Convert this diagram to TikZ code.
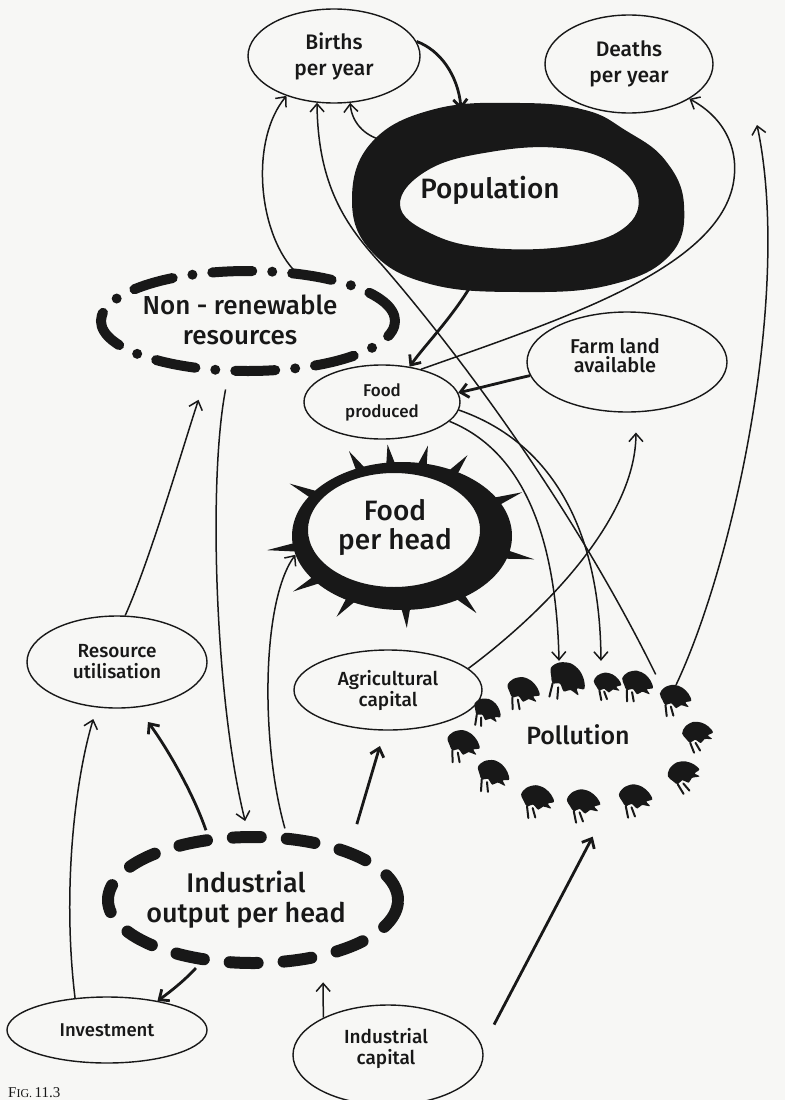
\documentclass[tikz,border=0pt]{standalone}
\usepackage{fontspec}
\setmainfont{Fira Sans}[UprightFont=* Medium]
\newfontfamily\figfont{Liberation Serif}
\usetikzlibrary{arrows.meta,shapes.geometric,calc}
\definecolor{ink}{RGB}{24,24,24}
\definecolor{paper}{RGB}{247,247,245}
\tikzset{
  oval/.style={ellipse, draw=ink, line width=1.4pt, inner sep=0pt, align=center, text=ink},
  hollow/.style={ellipse, inner sep=0pt, align=center, text=ink},
  txt/.style={align=center, text=ink, inner sep=0pt},
  conn/.style={draw=ink, line width=1.5pt, -{Straight Barb[length=8pt,width=14pt]}},
  heavy/.style={conn, line width=2.8pt},
  t17/.style={font=\fontsize{17}{21}\selectfont},
  t18/.style={font=\fontsize{18.5}{21}\selectfont},
  t19/.style={font=\fontsize{19}{21}\selectfont},
  t20/.style={font=\fontsize{20}{19}\selectfont},
  t21/.style={font=\fontsize{21}{26}\selectfont},
  t25/.style={font=\fontsize{25}{28}\selectfont},
  t26/.style={font=\fontsize{26}{30}\selectfont},
  t27/.style={font=\fontsize{27}{30}\selectfont},
  t28/.style={font=\fontsize{28}{29}\selectfont},
  smudge/.pic={
    \fill[ink] plot[smooth cycle, tension=0.55] coordinates
      {(-14,-2) (-10,-8) (-2,-11) (6,-9) (12,-4) (15,2) (10,4) (13,8) (6,7) (2,10) (-3,6) (-8,8) (-11,4)};
    \draw[ink, line width=2pt, line cap=round] (-8,8) -- (-6,18) (-3,9) -- (0,17);
  },
}
\begin{document}
\begin{tikzpicture}[x=1pt,y=-1pt]
\fill[paper] (0,0) rectangle (785,1100);
\useasboundingbox (0,0) rectangle (785,1100);
\begin{scope}
\clip (0,0) rectangle (785,1100);

% ---------- stocks and auxiliaries ----------
\node[oval, t21, minimum width=172pt, minimum height=94pt] (births) at (334,56) {Births\\per year};
\node[oval, t21, minimum width=168pt, minimum height=98pt] (deaths) at (629,64) {Deaths\\per year};

% population: heavy ring
\node[hollow, minimum width=332pt, minimum height=186pt] (pop) at (518,197) {};
\fill[ink, even odd rule]
  plot[smooth cycle, tension=0.7] coordinates {(352,200) (372,142) (435,109) (520,103) (585,110) (625,130) (665,160) (684,205) (670,255) (610,285) (520,292) (430,284) (372,252)}
  plot[smooth cycle, tension=0.7] coordinates {(400,205) (428,170) (490,152) (560,148) (612,163) (638,195) (624,228) (570,246) (490,248) (432,234)};
\node[txt, t28] (poptext) at (490,190) {Population};

% non-renewable resources: dash-dot ring
\node[hollow, minimum width=304pt, minimum height=108pt] (nonren) at (248,321) {};
\draw[ink, line width=10pt, line cap=round, dash pattern=on 40pt off 20pt on 0pt off 20pt]
  (nonren.center) ellipse [x radius=147pt, y radius=50pt];
\node[txt, t26] (nonrentext) at (240,320) {Non - renewable\\resources};

\node[oval, t17, minimum width=156pt, minimum height=74pt] (fp) at (382,402) {Food\\produced};
\node[oval, minimum width=200pt, minimum height=100pt] (farm) at (627,362) {};
\node[txt, t20] (farmtext) at (615,356) {Farm land\\available};

% food per head: ring with thorns
\node[hollow, minimum width=220pt, minimum height=148pt] (fph) at (402,536) {};
\fill[ink, even odd rule] (402,536) ellipse [x radius=110pt, y radius=74pt]
  (394,530) ellipse [x radius=86pt, y radius=57pt];
\foreach \a in {20,51,74,99,122,155,186,207,231,273,314,350} {
  \coordinate (sb) at ($(fph.center)!0.94!(fph.\a)$);
  \coordinate (st) at ($(fph.center)!1.24!(fph.\a)$);
  \fill[ink] ($(sb)!5pt!90:(st)$) -- (st) -- ($(sb)!5pt!-90:(st)$) -- cycle;
}
\node[txt, t28] (fphtext) at (395,527) {Food\\per head};

\node[oval, t19, minimum width=180pt, minimum height=92pt] (resutil) at (117,662) {Resource\\utilisation};
\node[oval, t19, minimum width=188pt, minimum height=80pt] (agcap) at (388,690) {Agricultural\\capital};

% pollution: ring of smudges
\node[hollow, minimum width=270pt, minimum height=170pt] (poll) at (580,745) {};
\foreach \x/\y/\r/\s in {523/690/-10/1.15, 567/678/-25/1.35, 607/683/0/0.95, 637/683/-10/1.1,
  675/697/-5/1.1, 697/733/10/1.05, 683/773/20/1.1, 635/797/0/1.15, 583/802/0/1.15,
  537/798/-5/1.15, 493/773/-15/1.15, 463/743/-10/1.15, 487/710/-20/1.0}
  \pic[rotate=\r, scale=\s] at (\x,\y) {smudge};
\node[txt, t25] (polltext) at (578,735) {Pollution};

% industrial output per head: dashed ring
\node[hollow, minimum width=310pt, minimum height=146pt] (indout) at (253,900) {};
\draw[ink, line width=12pt, line cap=round, dash pattern=on 28pt off 26pt]
  (indout.center) ellipse [x radius=145pt, y radius=63pt];
\node[txt, t27] (indouttext) at (246,900) {Industrial\\output per head};

\node[oval, t18, minimum width=200pt, minimum height=66pt] (invest) at (107,1030) {Investment};
\node[oval, minimum width=190pt, minimum height=100pt] (indcap) at (388,1055) {};
\node[txt, t19] (indcaptext) at (386,1048) {Industrial\\capital};

% ---------- causal links ----------
\draw[heavy] (births.10) .. controls (440,50) and (458,75) .. (pop.123);
\draw[conn] (pop.157) .. controls (368,138) and (352,125) .. (births.289);
\draw[conn] (nonren.49) .. controls (258,230) and (250,140) .. (births.220);
\draw[conn] (poll.43) .. controls (560,480) and (430,320) .. (382,265)
  .. controls (345,225) and (318,185) .. (births.250);
\draw[heavy] (pop.242) .. controls (450,320) and (425,345) .. (fp.52);
\draw[heavy] (farm.188) .. controls (510,380) and (480,388) .. (fp.7);
\draw[conn] (fp.40) .. controls (560,320) and (715,270) .. (733,185)
  .. controls (740,150) and (725,118) .. (deaths.330);
\coordinate (deathsfeed) at (757,125);
\draw[conn] (poll.32) .. controls (735,560) and (792,290) .. (deathsfeed);
\draw[conn] (fp.-6) .. controls (545,440) and (600,520) .. (poll.76);
\draw[conn] (fp.-16) .. controls (520,450) and (556,530) .. (poll.104);
\draw[conn, shorten >=20pt] (agcap.15) .. controls (560,600) and (636,510) .. (farm.280);
\draw[conn] (indout.66) .. controls (260,740) and (262,600) .. (fph.190);
\draw[conn, shorten <=15pt, shorten >=6pt] (nonren.250) .. controls (208,480) and (215,700) .. (indout.95);
\draw[conn, shorten >=28pt] (resutil.80) .. controls (150,560) and (182,450) .. (nonren.232);
\draw[conn, shorten >=12pt] (invest.135) .. controls (62,890) and (75,780) .. (resutil.246);
\draw[heavy, shorten >=18pt] (indout.124) .. controls (192,790) and (165,745) .. (resutil.294);
\draw[heavy] (indout.230) .. controls (185,980) and (170,992) .. (invest.30);
\draw[conn, shorten >=17pt] (indcap.150) -- (indout.317);
\draw[heavy, shorten <=25pt, shorten >=8pt] (indcap.5) -- (poll.281);
\draw[heavy, shorten <=20pt, shorten >=16pt] (indout.30) -- (agcap.265);

% figure caption at the page foot
\node[anchor=base west, text=ink, inner sep=0pt] (figlabel) at (8,1097)
  {\figfont{\fontsize{15}{15}\selectfont F}{\fontsize{12}{12}\selectfont IG.}\ {\fontsize{15}{15}\selectfont 11.3}};
\end{scope}
\end{tikzpicture}
\end{document}
